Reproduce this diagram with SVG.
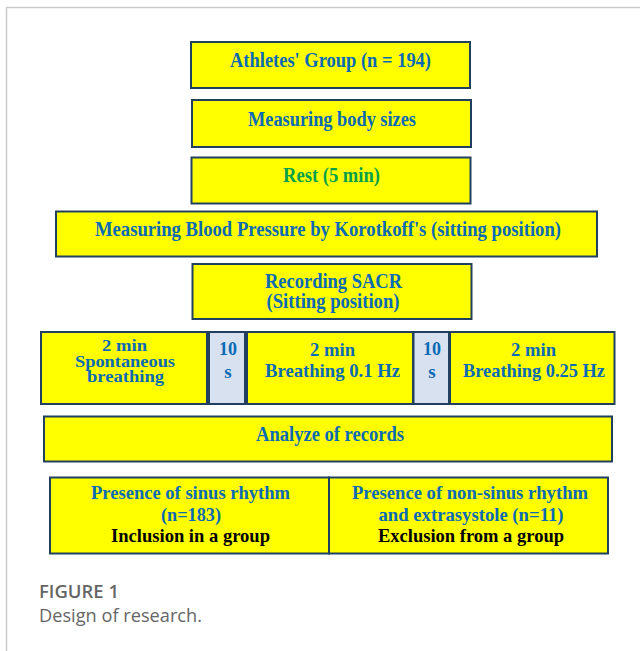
<svg xmlns="http://www.w3.org/2000/svg" width="640" height="651" viewBox="0 0 640 651">
<style>
.box{fill:#FFFF00;stroke:#21405f;stroke-width:2}
.gap{fill:#d7e1ef;stroke:#21405f;stroke-width:2}
.t{font-family:"Liberation Serif","Times New Roman",serif;font-weight:bold;text-anchor:middle}
.b{fill:#0a6ab5}
.g{fill:#05a04a}
.k{fill:#000}
.f20{font-size:20px}
.f19{font-size:19px}
.f17{font-size:17px}
.cap{font-family:"Open Sans","Noto Sans",sans-serif;fill:#666}
</style>
<rect width="640" height="651" fill="#fff"/>
<path d="M6.5 651 V7.5 H640" fill="none" stroke="#cbcbcb" stroke-width="1.5"/>

<g id="athletes">
<rect class="box" x="191" y="42" width="279" height="46"/>
<text class="t b f20" x="330.5" y="66.5" textLength="201" lengthAdjust="spacingAndGlyphs">Athletes' Group (n = 194)</text>
</g>
<g id="body-sizes">
<rect class="box" x="192" y="100" width="279" height="47"/>
<text class="t b f20" x="332" y="125.5" textLength="168" lengthAdjust="spacingAndGlyphs">Measuring body sizes</text>
</g>
<g id="rest">
<rect class="box" x="191.5" y="157.5" width="279" height="46"/>
<text class="t g f20" x="331.5" y="181.5" textLength="97" lengthAdjust="spacingAndGlyphs">Rest (5 min)</text>
</g>
<g id="blood-pressure">
<rect class="box" x="56" y="211.5" width="541" height="45"/>
<text class="t b f20" x="328" y="236" textLength="466" lengthAdjust="spacingAndGlyphs">Measuring Blood Pressure by Korotkoff's (sitting position)</text>
</g>
<g id="recording">
<rect class="box" x="192.5" y="264" width="279" height="55"/>
<text class="t b f20" x="333.5" y="287.5" textLength="137" lengthAdjust="spacingAndGlyphs">Recording SACR</text>
<text class="t b f20" x="333" y="308" textLength="133" lengthAdjust="spacingAndGlyphs">(Sitting position)</text>
</g>
<g id="spontaneous">
<rect class="box" x="41" y="332" width="166" height="72"/>
<text class="t b f17" x="124.5" y="350.5" textLength="45" lengthAdjust="spacingAndGlyphs">2 min</text>
<text class="t b f17" x="125" y="366.5" textLength="100" lengthAdjust="spacingAndGlyphs">Spontaneous</text>
<text class="t b f17" x="125.5" y="382" textLength="77" lengthAdjust="spacingAndGlyphs">breathing</text>
</g>
<g id="pause-1">
<rect class="gap" x="209" y="332" width="36" height="72"/>
<text class="t b f19" x="228" y="355" textLength="18" lengthAdjust="spacingAndGlyphs">10</text>
<text class="t b f19" x="228" y="377.5">s</text>
</g>
<g id="breathing-01">
<rect class="box" x="247" y="332" width="166" height="72"/>
<text class="t b f19" x="332.5" y="355.5" textLength="45" lengthAdjust="spacingAndGlyphs">2 min</text>
<text class="t b f19" x="332.5" y="376.5" textLength="135" lengthAdjust="spacingAndGlyphs">Breathing 0.1 Hz</text>
</g>
<g id="pause-2">
<rect class="gap" x="413.5" y="332" width="35.5" height="72"/>
<text class="t b f19" x="432" y="355" textLength="18" lengthAdjust="spacingAndGlyphs">10</text>
<text class="t b f19" x="432" y="377.5">s</text>
</g>
<g id="breathing-025">
<rect class="box" x="450" y="332" width="164.5" height="72"/>
<text class="t b f19" x="533.5" y="355.5" textLength="45" lengthAdjust="spacingAndGlyphs">2 min</text>
<text class="t b f19" x="534" y="376.5" textLength="142" lengthAdjust="spacingAndGlyphs">Breathing 0.25 Hz</text>
</g>
<g id="analyze">
<rect class="box" x="44" y="416.5" width="568" height="45"/>
<text class="t b f20" x="330" y="440.5" textLength="148" lengthAdjust="spacingAndGlyphs">Analyze of records</text>
</g>
<g id="inclusion">
<rect class="box" x="50" y="477.5" width="279" height="76"/>
<text class="t b f19" x="190.5" y="499" textLength="199" lengthAdjust="spacingAndGlyphs">Presence of sinus rhythm</text>
<text class="t b f19" x="191" y="520.5" textLength="60" lengthAdjust="spacingAndGlyphs">(n=183)</text>
<text class="t k f19" x="190.5" y="541.5" textLength="159" lengthAdjust="spacingAndGlyphs">Inclusion in a group</text>
</g>
<g id="exclusion">
<rect class="box" x="329" y="477.5" width="279" height="76"/>
<text class="t b f19" x="470" y="499" textLength="236" lengthAdjust="spacingAndGlyphs">Presence of non-sinus rhythm</text>
<text class="t b f19" x="471" y="520.5" textLength="185" lengthAdjust="spacingAndGlyphs">and extrasystole (n=11)</text>
<text class="t k f19" x="471" y="541.5" textLength="186" lengthAdjust="spacingAndGlyphs">Exclusion from a group</text>
</g>
<g id="caption">
<text class="cap" x="39" y="598" font-size="18" font-weight="600" textLength="80" lengthAdjust="spacingAndGlyphs">FIGURE 1</text>
<text class="cap" x="39" y="621.5" font-size="18" fill="#777" textLength="163" lengthAdjust="spacingAndGlyphs">Design of research.</text>
</g>
</svg>
